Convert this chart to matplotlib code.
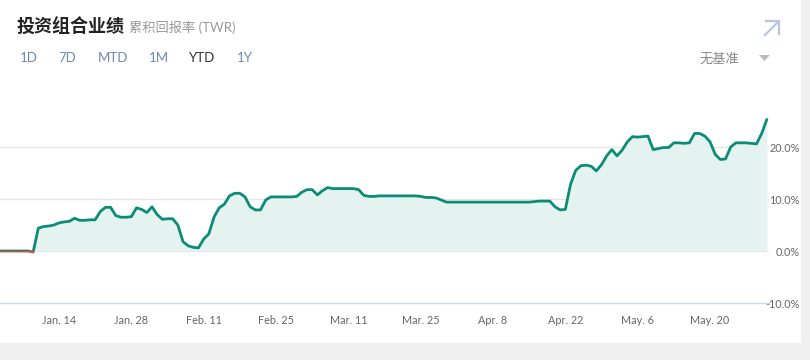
import matplotlib
matplotlib.use('Agg')
import matplotlib.pyplot as plt
from matplotlib.patches import Rectangle, Polygon
from matplotlib.lines import Line2D
import numpy as np
import pandas as pd

plt.rcParams['font.family'] = ['Lato', 'Noto Sans CJK SC', 'DejaVu Sans']

# cumulative return (TWR), percent, one value per calendar day 2019-01-02 .. 2019-05-31
jan = [0.0, 0.0, 0.0, 0.0, 0.0, 0.0, 0.0, -0.2, 4.4, 4.7,
       4.8, 5.0, 5.4, 5.6, 5.7, 6.3, 5.9, 5.9, 6.0, 6.0,
       7.6, 8.4, 8.4, 6.8, 6.5, 6.5, 6.6, 8.3, 8.0, 7.4]
feb = [8.5, 7.0, 6.1, 6.2, 6.2, 5.0, 1.8, 1.0, 0.7, 0.6,
       2.3, 3.3, 6.5, 8.3, 9.0, 10.6, 11.1, 11.1, 10.4, 8.5,
       7.9, 7.9, 9.8, 10.4, 10.4, 10.4, 10.4, 10.4]
mar = [10.5, 11.3, 11.8, 11.8, 10.8, 11.6, 12.2, 12.0, 12.0, 12.0,
       12.0, 12.0, 11.8, 10.7, 10.5, 10.5, 10.6, 10.6, 10.6, 10.6,
       10.6, 10.6, 10.6, 10.6, 10.5, 10.3, 10.3, 10.2, 9.8, 9.4, 9.4]
apr = [9.4, 9.4, 9.4, 9.4, 9.4, 9.4, 9.4, 9.4, 9.4, 9.4,
       9.4, 9.4, 9.4, 9.4, 9.4, 9.5, 9.6, 9.6, 9.6, 8.5,
       7.9, 8.0, 12.8, 15.5, 16.4, 16.5, 16.3, 15.4, 16.6, 18.3]
may = [19.5, 18.3, 19.4, 21.0, 22.0, 21.9, 22.0, 22.1, 19.5, 19.7,
       19.9, 19.9, 20.8, 20.8, 20.7, 20.8, 22.6, 22.6, 22.1, 21.0,
       18.6, 17.6, 17.7, 20.0, 20.8, 20.8, 20.8, 20.7, 20.6, 22.6, 25.3]

values = np.array(jan + feb + mar + apr + may)
dates = pd.date_range('2019-01-02', periods=len(values), freq='D')

tick_dates = pd.to_datetime(['2019-01-14', '2019-01-28', '2019-02-11', '2019-02-25',
                             '2019-03-11', '2019-03-25', '2019-04-08', '2019-04-22',
                             '2019-05-06', '2019-05-20'])
tick_labels = ['Jan. 14', 'Jan. 28', 'Feb. 11', 'Feb. 25', 'Mar. 11',
               'Mar. 25', 'Apr. 8', 'Apr. 22', 'May. 6', 'May. 20']
y_ticks = [-10, 0, 10, 20]
y_labels = ['-10.0%', '0.0%', '10.0%', '20.0%']
ranges = ['1D', '7D', 'MTD', '1M', 'YTD', '1Y']
selected = 'YTD'

LINE = '#0b8c77'
FILL = '#e4f2f0'
NEG = '#e0473a'
W, H = 810, 360


def fx(px):
    return px / W


def fy(py):
    return 1 - py / H


fig = plt.figure(figsize=(8.1, 3.6), dpi=100)
fig.patch.set_facecolor('white')

# grey page margins right and bottom
fig.add_artist(Rectangle((fx(801), 0), fx(9), 1, transform=fig.transFigure,
                         facecolor='#f0f0f0', edgecolor='none'))
fig.add_artist(Rectangle((0, 0), 1, 17 / H, transform=fig.transFigure,
                         facecolor='#f0f0f0', edgecolor='none'))

ax = fig.add_axes([0, 57 / H, 769 / W, 208 / H])
ax.set_facecolor('none')

ax.fill_between(dates, values, 0, color=FILL, linewidth=0, zorder=1)
pos_line, = ax.plot(dates, values, color=LINE, linewidth=2, zorder=3,
                    solid_joinstyle='round', solid_capstyle='round')
neg_line, = ax.plot(dates, values, color=NEG, linewidth=2, zorder=3,
                    solid_joinstyle='round', solid_capstyle='round')

ax.set_xlim(pd.Timestamp('2019-01-02 14:00'), pd.Timestamp('2019-05-31 10:00'))
ax.set_ylim(-10, 30)

# colour the line red below zero, teal above
below = ax.axhspan(-10, 0, facecolor='none', edgecolor='none')
above = ax.axhspan(0, 30, facecolor='none', edgecolor='none')
neg_line.set_clip_path(below)
pos_line.set_clip_path(above)

for v in [0, 10, 20]:
    ax.axhline(v, color='#e6e6e6', linewidth=1, zorder=0)

for s in ['top', 'left', 'right']:
    ax.spines[s].set_visible(False)
ax.spines['bottom'].set_color('#ccd6eb')
ax.spines['bottom'].set_linewidth(1)

ax.set_xticks(tick_dates)
ax.set_xticklabels(tick_labels)
ax.tick_params(axis='x', length=0, pad=9, labelsize=7.8, labelcolor='#666666')

ax.yaxis.tick_right()
ax.set_yticks(y_ticks)
ax.set_yticklabels(y_labels)
ax.tick_params(axis='y', length=0, pad=22, labelsize=7.8, labelcolor='#666666')
for lab in ax.get_yticklabels():
    lab.set_horizontalalignment('right')

# header
fig.text(fx(17), fy(27), '投资组合业绩', fontsize=13, fontweight='bold',
         color='#222222', va='center', ha='left')
fig.text(fx(129), fy(27), '累积回报率 (TWR)', fontsize=9.5,
         color='#999999', va='center', ha='left')

xs = [20, 58, 98, 149, 189, 237]
for x, r in zip(xs, ranges):
    fig.text(fx(x), fy(58), r, fontsize=9.5,
             color='#333333' if r == selected else '#6b8ab5', va='center', ha='left')

fig.text(fx(700), fy(58), '无基准', fontsize=9.5, color='#888888',
         va='center', ha='left')
fig.add_artist(Polygon([(fx(759), fy(55)), (fx(770), fy(55)), (fx(764.5), fy(61))],
                       closed=True, transform=fig.transFigure,
                       facecolor='#bbbbbb', edgecolor='none'))

# expand icon
icon = '#b9c6db'
fig.add_artist(Line2D([fx(765), fx(779)], [fy(35), fy(21)], transform=fig.transFigure,
                      color=icon, linewidth=1.6))
fig.add_artist(Line2D([fx(766), fx(779), fx(779)], [fy(21), fy(21), fy(34)],
                      transform=fig.transFigure, color=icon, linewidth=1.6))

fig.savefig('out.png', dpi=100, facecolor=fig.get_facecolor())
